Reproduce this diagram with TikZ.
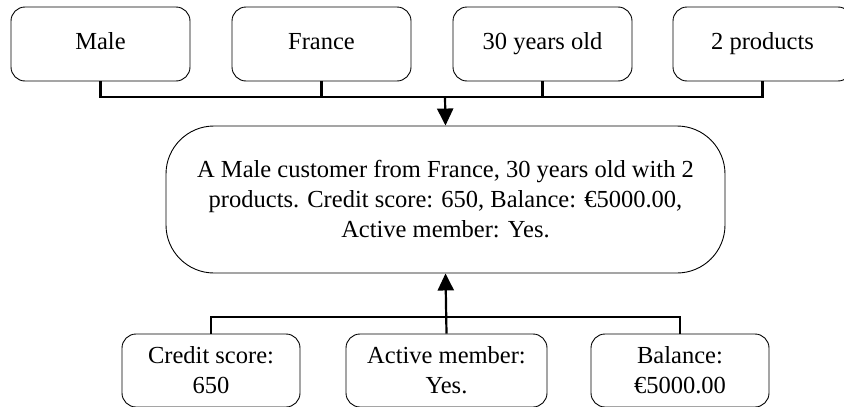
\documentclass[tikz,border=0pt]{standalone}
\usepackage{fontspec}
\setmainfont{Liberation Serif}
\usetikzlibrary{arrows.meta}

\tikzset{
	attrbox/.style={draw, rounded corners=14pt, line width=0.9pt, minimum width=179pt, minimum height=74pt, align=center, font=\fontsize{24.5}{30}\selectfont},
	descbox/.style={draw, rounded corners=48pt, line width=0.9pt, minimum width=559pt, minimum height=147pt, align=center, font=\fontsize{24.5}{30}\selectfont},
	wire/.style={line width=2.2pt},
	flow/.style={line width=2.2pt, -{Triangle[width=16pt,length=17pt]}}
}

\begin{document}
\begin{tikzpicture}[x=1pt, y=-1pt]
	\useasboundingbox (0,0) rectangle (844,407);
	% top attributes
	\node[attrbox, text height=17pt, text depth=6pt] (male) at (100.5,44) {Male};
	\node[attrbox, text height=17pt, text depth=6pt] (france) at (321.5,44) {France};
	\node[attrbox, text height=17pt, text depth=6pt] (age) at (542.5,44) {30 years old};
	\node[attrbox, text height=17pt, text depth=6pt] (prod) at (762.5,44) {2 products};
	% description
	\node[descbox] (desc) at (445.5,199.5) {A Male customer from France, 30 years old with 2\\products. Credit score: 650, Balance: €5000.00,\\Active member: Yes.};
	% bottom attributes
	\node[attrbox, minimum width=178pt, minimum height=73pt] (credit) at (211,370.5) {Credit score:\\650};
	\node[attrbox, minimum width=201pt, minimum height=73pt] (active) at (446.5,370.5) {Active member:\\Yes.};
	\node[attrbox, minimum width=178pt, minimum height=73pt] (balance) at (680,370.5) {Balance:\\€5000.00};
	\coordinate (topbar) at (445,97);
	\coordinate (botbar) at (445,317);
	% connectors
	\draw[wire] (male.south) |- (prod.south |- topbar) -- (prod.south);
	\draw[wire] (france.south) -- (france.south |- topbar);
	\draw[wire] (age.south) -- (age.south |- topbar);
	\draw[flow] (topbar) -- (desc.north);
	\draw[wire] (credit.north) |- (balance.north |- botbar) -- (balance.north);
	\draw[flow] (active.north) -- (desc.south);
\end{tikzpicture}
\end{document}
